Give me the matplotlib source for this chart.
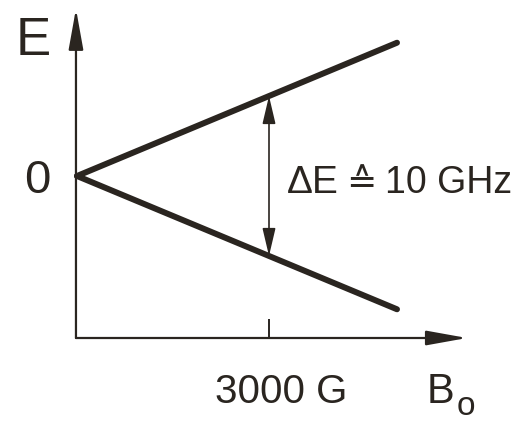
import matplotlib
matplotlib.use("Agg")
import matplotlib.pyplot as plt
import numpy as np

# Zeeman splitting of an electron spin level in a magnetic field B0
B_field = [0, 5000]            # gauss
E_upper = [0, 8.33]            # GHz (m_s = +1/2)
E_lower = [0, -8.33]           # GHz (m_s = -1/2)
B_mark = 3000                  # gauss, marked on the B axis
B_tick_label = "3000 G"
split_parts = ["ΔE", "≙", "10 GHz"]

ink = "#2a2520"
font = ["Liberation Sans", "DejaVu Sans"]

fig = plt.figure(figsize=(5.14, 4.21), dpi=100)
ax = fig.add_axes([0, 0, 1, 1])
ax.set_xlim(-1203, 6828)
ax.set_ylim(-15.3125, 11)
ax.axis("off")

# axes with filled arrow heads
axis_arrow = dict(arrowstyle="-|>,head_length=2.5,head_width=0.45",
                  mutation_scale=10, color=ink, lw=1.6, shrinkA=0, shrinkB=0)
ax.annotate("", xy=(-16, 10.45), xytext=(-16, -10.125), arrowprops=axis_arrow)
ax.annotate("", xy=(6094, -10.125), xytext=(-16, -10.125), arrowprops=axis_arrow)

# tick at the marked field
ax.plot([B_mark, B_mark], [-10.125, -8.94], color=ink, lw=1.4,
        solid_capstyle="butt")

# energy levels
ax.plot(B_field, E_upper, color=ink, lw=4.3, solid_capstyle="round")
ax.plot(B_field, E_lower, color=ink, lw=4.3, solid_capstyle="round")

# splitting at B_mark
e_hi = np.interp(B_mark, B_field, E_upper)
e_lo = np.interp(B_mark, B_field, E_lower)
ax.annotate("", xy=(B_mark, e_hi), xytext=(B_mark, e_lo),
            arrowprops=dict(arrowstyle="<|-|>,head_length=1.7,head_width=0.4",
                            mutation_scale=10, color=ink, lw=1.2,
                            shrinkA=0, shrinkB=0))

txt = dict(color=ink, ha="left", va="baseline")
ax.text(-953, 7.5625, "E", fontsize=38, family=font, **txt)
ax.text(-820, -1.06, "0", fontsize=34, family=font, **txt)

# splitting label, set piece by piece on one baseline
ax.text(3281, -1.06, split_parts[0], fontsize=28, family=font, **txt)
ax.text(4440, -1.06, split_parts[1], fontsize=26, family=["DejaVu Sans"],
        color=ink, ha="center", va="baseline")
ax.text(6797, -1.06, split_parts[2], fontsize=27, family=font,
        color=ink, ha="right", va="baseline")

ax.text(2156, -14.19, B_tick_label, fontsize=29, family=font, **txt)
ax.text(5469, -14.19, "B", fontsize=30, family=font, **txt)
ax.text(5938, -14.94, "o", fontsize=24, family=font, **txt)

fig.savefig("out.png", dpi=100, facecolor="white")
